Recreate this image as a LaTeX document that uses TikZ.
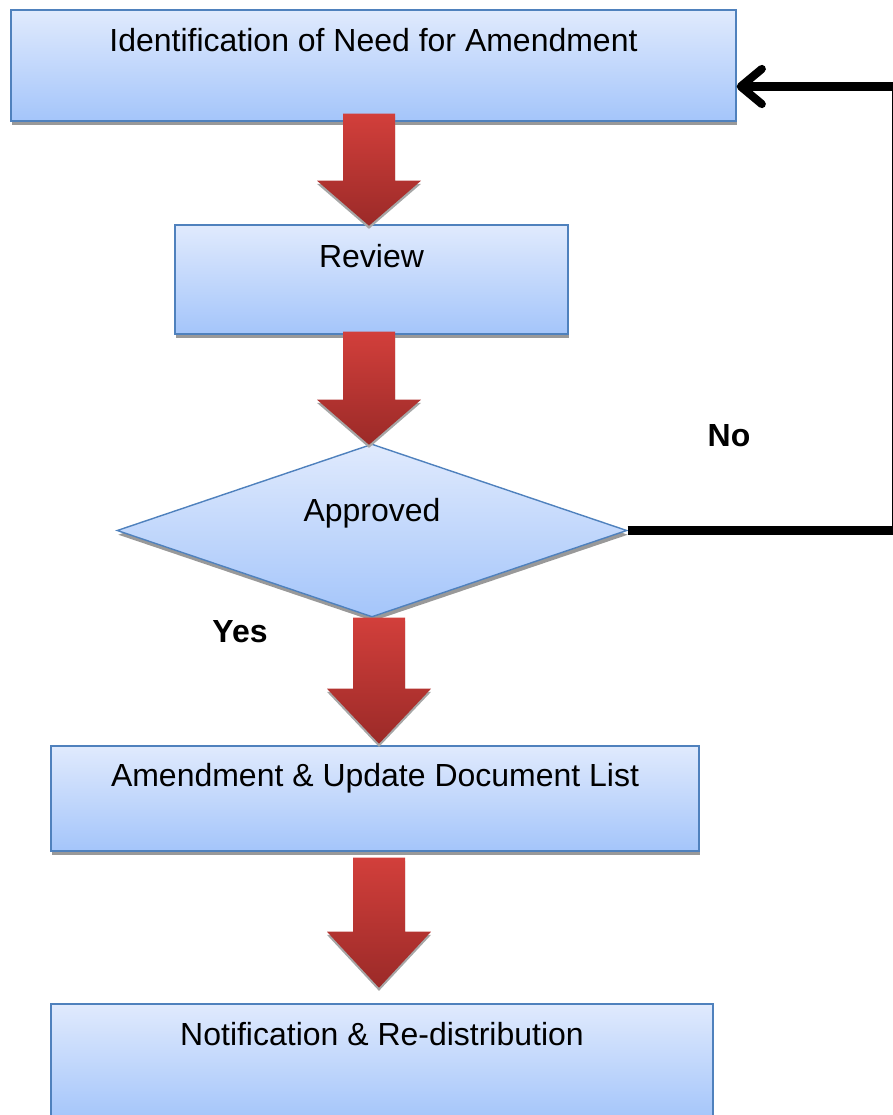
\documentclass[tikz,border=0pt]{standalone}
\usepackage{fontspec}
\setmainfont{Liberation Sans}
\usetikzlibrary{shapes.geometric,arrows.meta,shadows}

\definecolor{boxtop}{RGB}{224,234,253}
\definecolor{boxbot}{RGB}{164,197,250}
\definecolor{boxline}{RGB}{79,129,189}
\definecolor{redtop}{RGB}{210,63,59}
\definecolor{redbot}{RGB}{155,42,40}

\tikzset{
	every node/.style={font=\fontsize{18.2}{22}\selectfont},
	stepbox/.style={draw=boxline, line width=0.8pt, top color=boxtop, bottom color=boxbot,
		inner sep=0pt, drop shadow={shadow xshift=0.6pt, shadow yshift=-2.4pt, fill=black!40, opacity=1}},
	boxtext/.style={inner sep=0pt},
	answer/.style={font=\fontsize{18.2}{22}\selectfont\bfseries},
	noline/.style={line width=4.6pt, -{Straight Barb[round, length=12pt, width=20pt]},
		preaction={draw=black!35, transform canvas={xshift=0.6pt, yshift=-2.2pt}}},
	% red block arrow: #1 = total length, #2 = head length
	pics/flowarrow/.style 2 args={code={
		\path[top color=redtop, bottom color=redbot,
			drop shadow={shadow xshift=0pt, shadow yshift=-1.8pt, fill=black!35, opacity=1}]
			(-0.52,0) -- (0.52,0) -- (0.52,{-#1+#2}) -- (1.04,{-#1+#2})
			-- (0,-#1) -- (-1.04,{-#1+#2}) -- (-0.52,{-#1+#2}) -- cycle;
	}}
}

\begin{document}
\begin{tikzpicture}
	\useasboundingbox (0,0) rectangle (17.86,-22.3);

	% steps
	\node[stepbox, minimum width=14.5cm, minimum height=2.22cm] (ident) at (7.47,-1.31) {};
	\node[stepbox, minimum width=7.86cm, minimum height=2.18cm] (review) at (7.43,-5.59) {};
	\node[stepbox, diamond, minimum width=10.2cm, minimum height=3.46cm] (approved) at (7.44,-10.61) {};
	\node[stepbox, minimum width=12.96cm, minimum height=2.1cm] (amend) at (7.5,-15.97) {};
	\node[stepbox, minimum width=13.24cm, minimum height=2.32cm] (notify) at (7.64,-21.24) {};

	\node[boxtext] (identtext) at ([yshift=-0.62cm]ident.north) {Identification of Need for Amendment};
	\node[boxtext] (reviewtext) at ([yshift=-0.63cm]review.north) {Review};
	\node[boxtext] (approvedtext) at ([yshift=0.34cm]approved.center) {Approved};
	\node[boxtext] (amendtext) at ([yshift=-0.65cm]amend.north) {Amendment \& Update Document List};
	\node[boxtext] (notifytext) at ([yshift=-0.61cm]notify.north) {Notification \& Re-distribution};

	% red arrows between the steps
	\pic (down1) at ([xshift=-0.09cm, yshift=0.16cm]ident.south) {flowarrow={2.24}{0.9}};
	\pic (down2) at ([xshift=-0.05cm, yshift=0.06cm]review.south) {flowarrow={2.26}{0.9}};
	\pic (down3) at ([xshift=0.14cm]approved.south) {flowarrow={2.52}{1.1}};
	\pic (down4) at ([xshift=0.08cm, yshift=-0.12cm]amend.south) {flowarrow={2.6}{1.12}};

	% back to the start when not approved
	\draw[noline] (approved.east) -- ++(5.36,0) |- ([yshift=-0.42cm]ident.east);

	\node[answer] (no) at (14.58,-8.72) {No};
	\node[answer] (yes) at (4.8,-12.64) {Yes};
\end{tikzpicture}
\end{document}
